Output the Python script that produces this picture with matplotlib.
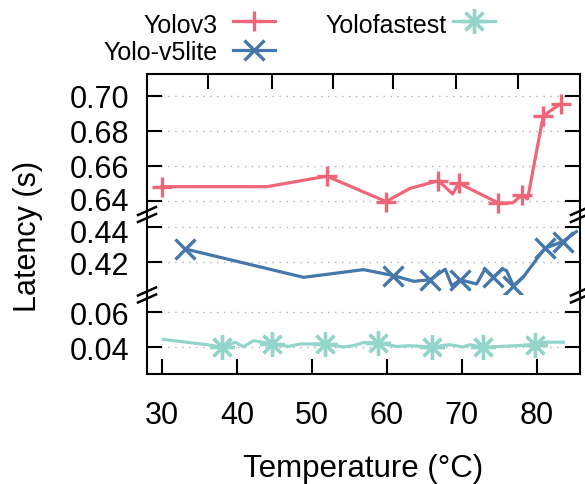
import matplotlib
matplotlib.use("Agg")
import matplotlib.pyplot as plt
from matplotlib.lines import Line2D
from matplotlib.transforms import ScaledTranslation

plt.rcParams['font.family'] = ['Liberation Sans', 'DejaVu Sans']

# ---- data -------------------------------------------------------------
v3_temp = [30.0, 44.0, 52.0, 59.9, 63.1, 66.9, 68.8, 69.6, 74.9, 76.8, 78.0, 78.8, 80.9, 83.2]
v3_lat = [0.648, 0.648, 0.654, 0.6395, 0.647, 0.6514, 0.6438, 0.650, 0.6387, 0.6387, 0.643, 0.641, 0.6886, 0.6953]
v3_marked = [0, 2, 3, 5, 7, 8, 10, 12, 13]

v5_temp = [33.1, 48.9, 56.9, 60.9, 63.6, 65.8, 67.8, 68.7, 69.8, 72.0, 73.1, 74.2,
           75.5, 76.0, 76.9, 78.2, 81.1, 83.5, 85.3]
v5_lat = [0.4276, 0.4114, 0.4158, 0.4124, 0.4091, 0.4100, 0.4160, 0.4065, 0.4100, 0.4076,
          0.4160, 0.4114, 0.4162, 0.4152, 0.4067, 0.4114, 0.4280, 0.4318, 0.4375]
v5_marked = [0, 3, 5, 8, 11, 14, 16, 17]

fast_temp = [30.2, 36.0, 38.0, 39.8, 40.9, 42.2, 44.7, 46.9, 48.4, 51.8, 54.2, 55.5, 56.9,
             58.9, 61.3, 63.1, 66.0, 68.4, 70.2, 71.1, 72.9, 75.1, 77.3, 79.8, 81.1, 83.6]
fast_lat = [0.0445, 0.0415, 0.0400, 0.0429, 0.0403, 0.0438, 0.0419, 0.0405, 0.0419, 0.0419,
            0.0402, 0.0409, 0.0427, 0.0425, 0.0405, 0.0409, 0.0402, 0.0415, 0.0402, 0.0415,
            0.0400, 0.0405, 0.0409, 0.0415, 0.0429, 0.0429]
fast_marked = [2, 6, 9, 13, 16, 20, 23]

series_names = ["Yolov3", "Yolo-v5lite", "Yolofastest"]
x_ticks = [30, 40, 50, 60, 70, 80]
x2_ticks = [36.2, 44.7, 52.8, 60.8, 69.3, 77.5]
y_ticks_top = [0.64, 0.66, 0.68, 0.70]
y_ticks_mid = [0.42, 0.44]
y_ticks_bot = [0.04, 0.06]

# ---- styling ----------------------------------------------------------
RED, BLUE, TEAL = '#EE6677', '#4477AA', '#93D5CB'
W, H = 585, 485
FS_TICK = 22
FS_LEG = 18
TICK_LEN = 10.8
SPINE_W = 1.5

fig = plt.figure(figsize=(W / 100, H / 100), dpi=100)

ax_left, ax_right, ax_top_px, ax_bot_px = 147, 580, 75, 375
b1, b2 = 215.5, 296.0
gs = fig.add_gridspec(3, 1, height_ratios=[b1 - ax_top_px, b2 - b1, ax_bot_px - b2],
                      hspace=0, left=ax_left / W, right=ax_right / W,
                      top=1 - ax_top_px / H, bottom=1 - ax_bot_px / H)
ax_t = fig.add_subplot(gs[0])
ax_m = fig.add_subplot(gs[1])
ax_b = fig.add_subplot(gs[2])

xlim = (28.0, 85.8)
ax_t.set_ylim(0.6321, 0.7124)
ax_m.set_ylim(0.4013, 0.4473)
ax_b.set_ylim(0.02474, 0.0699)

for ax, yt in ((ax_t, y_ticks_top), (ax_m, y_ticks_mid), (ax_b, y_ticks_bot)):
    ax.set_xlim(*xlim)
    ax.set_yticks(yt)
    ax.set_yticklabels([f"{v:.2f}" for v in yt])
    ax.tick_params(axis='y', direction='in', left=True, right=True, length=TICK_LEN,
                   width=SPINE_W, labelsize=FS_TICK, pad=13)
    ax.yaxis.grid(True, linestyle=(0, (1, 4)), color='#b0b0b0', linewidth=1.0)
    ax.set_axisbelow(True)
    for s in ax.spines.values():
        s.set_linewidth(SPINE_W)

ax_t.spines['bottom'].set_visible(False)
ax_m.spines['top'].set_visible(False)
ax_m.spines['bottom'].set_visible(False)
ax_b.spines['top'].set_visible(False)

ax_t.set_xticks(x2_ticks)
ax_t.tick_params(axis='x', direction='in', bottom=False, top=True, labelbottom=False,
                 length=TICK_LEN, width=SPINE_W)
ax_m.tick_params(axis='x', bottom=False, top=False, labelbottom=False)
ax_b.set_xticks(x_ticks)
ax_b.tick_params(axis='x', direction='in', bottom=True, top=False, length=TICK_LEN,
                 width=SPINE_W, labelsize=FS_TICK, pad=19)

# nudge the labels next to the upper break apart a little
def nudge(label, dy_px):
    label.set_transform(label.get_transform() +
                        ScaledTranslation(0, dy_px / 100, fig.dpi_scale_trans))

nudge(ax_t.get_yticklabels()[0], 2)
nudge(ax_m.get_yticklabels()[-1], -3)

line_kw = dict(linewidth=2.3, clip_on=False, markeredgewidth=2.4, zorder=3)
ax_t.plot(v3_temp, v3_lat, color=RED, marker='+', markersize=15, markevery=v3_marked, **line_kw)
ax_m.plot(v5_temp, v5_lat, color=BLUE, marker='x', markersize=15, markevery=v5_marked, **line_kw)
ax_b.plot(fast_temp, fast_lat, color=TEAL, marker=(8, 2, 0), markersize=18,
          markevery=fast_marked, **line_kw)

# broken-axis marks
def fx(px):
    return px / W

def fy(py):
    return 1 - py / H

for bx in (ax_left, ax_right):
    for by in (b1, b2):
        for off in (-3.5, 3.5):
            fig.add_artist(Line2D([fx(bx - 9), fx(bx + 9)],
                                  [fy(by + off + 4), fy(by + off - 4)],
                                  transform=fig.transFigure, color='black',
                                  linewidth=1.8, clip_on=False))

# axis titles
fig.text(fx(28), fy(236), "Latency (s)", rotation=90, ha='center', va='center',
         fontsize=FS_TICK)
fig.text(fx(363.5), fy(477), "Temperature (°C)", ha='center', va='baseline',
         fontsize=22.5)

# legend
legend_rows = [
    (series_names[0], RED, '+', 15, 218, 233, 275, 33, 22),
    (series_names[1], BLUE, 'x', 15, 218, 233, 275, 60, 51),
    (series_names[2], TEAL, (8, 2, 0), 18, 447, 453, 495, 33, 22),
]
for name, col, mk, ms, tx, lx0, lx1, ty, ly in legend_rows:
    fig.text(fx(tx), fy(ty), name, ha='right', va='baseline', fontsize=FS_LEG)
    fig.add_artist(Line2D([fx(lx0), fx(lx1)], [fy(ly), fy(ly)], transform=fig.transFigure,
                          color=col, linewidth=2.3))
    fig.add_artist(Line2D([fx((lx0 + lx1) / 2)], [fy(ly)], transform=fig.transFigure,
                          color=col, marker=mk, markersize=ms, markeredgewidth=2.4,
                          linestyle='none'))

fig.savefig("out.png", dpi=100)
